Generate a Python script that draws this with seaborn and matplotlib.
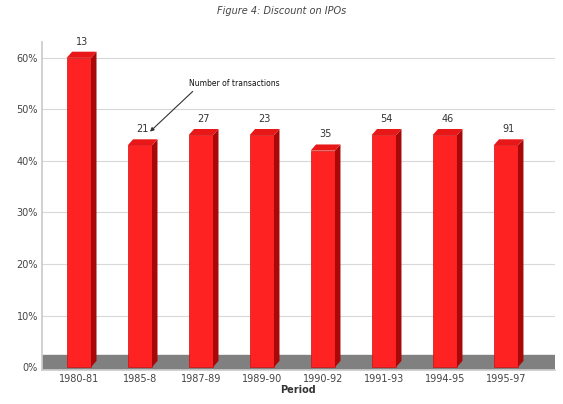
import matplotlib
matplotlib.use("Agg")
import matplotlib.pyplot as plt
import seaborn as sns
import pandas as pd
from matplotlib.patches import Polygon
from matplotlib.ticker import PercentFormatter

periods = ["1980-81", "1985-8", "1987-89", "1989-90", "1990-92", "1991-93", "1994-95", "1995-97"]
discount = [0.60, 0.43, 0.45, 0.45, 0.42, 0.45, 0.45, 0.43]
transactions = [13, 21, 27, 23, 35, 54, 46, 91]

df = pd.DataFrame({"Period": periods, "Discount": discount, "N": transactions})

sns.set_theme(style="white")
plt.rcParams['font.family'] = ['DejaVu Sans']

fig = plt.figure(figsize=(5.63, 4.04), dpi=100)
ax = fig.add_axes([0.075, 0.085, 0.91, 0.81])

sns.barplot(data=df, x="Period", y="Discount", color="#ff2222", width=0.4,
            saturation=1, edgecolor="#cc1010", linewidth=0.5, ax=ax, zorder=3)
bars = list(ax.patches)

ax.set_ylim(-0.005, 0.63)
ax.set_xlim(-0.6, 7.8)

# grey floor
ax.axhspan(-0.005, 0.024, color="#808080", zorder=1)
# grid lines on back wall
for v in [0.1, 0.2, 0.3, 0.4, 0.5, 0.6]:
    ax.axhline(v, color="#d8d8d8", lw=0.8, zorder=0)

# pseudo-3D side and top faces derived from bars
dx, dy = 0.09, 0.012
for p in bars:
    x0, w, h = p.get_x(), p.get_width(), p.get_height()
    side = Polygon([(x0 + w, 0), (x0 + w + dx, dy), (x0 + w + dx, h + dy), (x0 + w, h)],
                   closed=True, facecolor="#a80808", edgecolor="none", zorder=3)
    top = Polygon([(x0, h), (x0 + dx, h + dy), (x0 + w + dx, h + dy), (x0 + w, h)],
                  closed=True, facecolor="#e81818", edgecolor="none", zorder=3)
    ax.add_patch(side)
    ax.add_patch(top)

for i, (v, n) in enumerate(zip(discount, transactions)):
    ax.text(i + 0.05, v + 0.022, str(n), ha="center", va="bottom", fontsize=7, color="#333333")

ax.annotate("Number of transactions", xy=(1.15, 0.455), xytext=(2.55, 0.55),
            fontsize=5.5, color="#111111", ha="center", va="center",
            arrowprops=dict(arrowstyle="-|>", color="#333333", lw=0.8,
                            shrinkA=0, shrinkB=1, relpos=(0.1, 0.2)))

ax.yaxis.set_major_formatter(PercentFormatter(1.0, decimals=0))
ax.set_yticks([0, 0.1, 0.2, 0.3, 0.4, 0.5, 0.6])
ax.tick_params(axis="both", labelsize=7, colors="#444444", length=0, pad=3)
ax.set_xlabel("Period", fontsize=7, fontweight="bold", color="#333333", labelpad=1)
ax.set_ylabel("")

for s in ["top", "right"]:
    ax.spines[s].set_visible(False)
ax.spines["left"].set_color("#cccccc")
ax.spines["bottom"].set_color("#cccccc")

fig.text(0.5, 0.965, "Figure 4: Discount on IPOs", ha="center", fontsize=7,
         style="italic", color="#444444")

fig.savefig("out.png", dpi=100)
